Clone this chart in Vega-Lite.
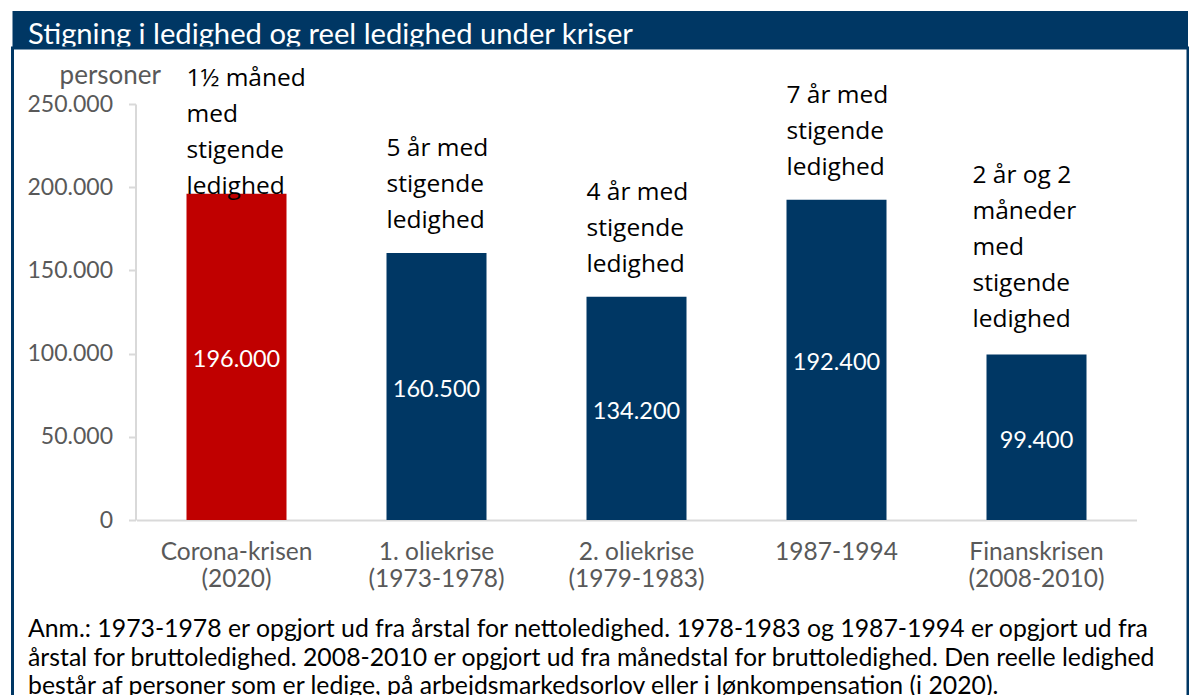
{
  "$schema": "https://vega.github.io/schema/vega-lite/v6.json",
  "background": "white",
  "padding": {"left": 10.5, "top": 11, "right": 0, "bottom": -4.5},
  "spacing": 0,
  "bounds": "flush",
  "config": {
    "locale": {"number": {"decimal": ",", "thousands": ".", "grouping": [3], "currency": ["", " kr."]}},
    "concat": {"spacing": 0}
  },
  "vconcat": [
    {
      "width": 1175.5,
      "height": 37,
      "view": {"fill": "#003764", "stroke": null},
      "data": {"values": [{"t": "", "v": 0}]},
      "mark": {"type": "text"},
      "encoding": {
        "x": {
          "field": "v",
          "type": "quantitative",
          "axis": {
            "orient": "top",
            "domain": false,
            "ticks": false,
            "labels": false,
            "grid": false,
            "title": "Stigning i ledighed og reel ledighed under kriser",
            "titleX": 15,
            "titleY": 32,
            "titleAlign": "left",
            "titleAnchor": "start",
            "titleBaseline": "alphabetic",
            "titleColor": "white",
            "titleFont": "Lato",
            "titleFontSize": 29.2,
            "titleFontWeight": "normal"
          }
        },
        "text": {"field": "t"}
      }
    },
    {
      "width": 1175.5,
      "height": 650,
      "view": {"fill": "white", "stroke": "#003764", "strokeWidth": 3},
      "data": {
        "values": [
          {"krise": "Corona-krisen (2020)", "ledige": 196000, "note": "1½ måned\nmed\nstigende\nledighed"},
          {"krise": "1. oliekrise (1973-1978)", "ledige": 160500, "note": "5 år med\nstigende\nledighed"},
          {"krise": "2. oliekrise (1979-1983)", "ledige": 134200, "note": "4 år med\nstigende\nledighed"},
          {"krise": "1987-1994", "ledige": 192400, "note": "7 år med\nstigende\nledighed"},
          {"krise": "Finanskrisen (2008-2010)", "ledige": 99400, "note": "2 år og 2\nmåneder\nmed\nstigende\nledighed"}
        ]
      },
      "resolve": {"scale": {"y": "independent"}},
      "encoding": {
        "x": {
          "field": "krise",
          "type": "nominal",
          "sort": null,
          "scale": {"range": [124, 1124], "paddingInner": 0.5, "paddingOuter": 0.25},
          "axis": {
            "orient": "bottom",
            "offset": -178,
            "domainColor": "#D9D9D9",
            "domainWidth": 2,
            "ticks": false,
            "labelAngle": 0,
            "labelFont": "Lato",
            "labelFontSize": 24.5,
            "labelColor": "#595959",
            "labelPadding": 20,
            "labelBaseline": "top",
            "labelLineHeight": 27,
            "labelExpr": "split(replace(datum.label, ' (', '|('), '|')",
            "title": [
              "Anm.: 1973-1978 er opgjort ud fra årstal for nettoledighed. 1978-1983 og 1987-1994 er opgjort ud fra",
              "årstal for bruttoledighed. 2008-2010 er opgjort ud fra månedstal for bruttoledighed. Den reelle ledighed",
              "består af personer som er ledige, på arbejdsmarkedsorlov eller i lønkompensation (i 2020)."
            ],
            "titleX": 15,
            "titleY": 96.5,
            "titleAlign": "left",
            "titleAnchor": "start",
            "titleBaseline": "top",
            "titleFont": "Lato",
            "titleFontSize": 24.8,
            "titleFontWeight": "normal",
            "titleColor": "black",
            "titleLineHeight": 28.5
          }
        }
      },
      "layer": [
        {
          "mark": {"type": "bar"},
          "encoding": {
            "y": {
              "field": "ledige",
              "type": "quantitative",
              "scale": {"domain": [0, 250000], "range": [472, 56], "nice": false, "zero": true},
              "axis": {
                "orient": "left",
                "offset": -123,
                "values": [0, 50000, 100000, 150000, 200000, 250000],
                "format": ",.0f",
                "grid": false,
                "domainColor": "#D9D9D9",
                "domainWidth": 2,
                "tickColor": "#D9D9D9",
                "tickWidth": 2,
                "tickSize": 7,
                "labelFont": "Lato",
                "labelFontSize": 23,
                "labelColor": "#595959",
                "labelPadding": 16,
                "title": "personer",
                "titleAngle": 0,
                "titleAlign": "right",
                "titleBaseline": "alphabetic",
                "titleX": 25,
                "titleY": 35,
                "titleFont": "Lato",
                "titleFontSize": 26,
                "titleFontWeight": "normal",
                "titleColor": "#595959"
              }
            },
            "color": {
              "condition": {"test": "datum.krise === 'Corona-krisen (2020)'", "value": "#C00000"},
              "value": "#003764"
            }
          }
        },
        {
          "mark": {"type": "text", "color": "white", "font": "Lato", "fontSize": 23.5, "baseline": "middle", "align": "center", "dy": 3.5},
          "encoding": {
            "y": {
              "field": "ledige",
              "type": "quantitative",
              "scale": {"domain": [0, 500000], "range": [472, 56], "nice": false},
              "axis": null
            },
            "text": {"field": "ledige", "type": "quantitative", "format": ",.0f"}
          }
        },
        {
          "transform": [{"filter": "datum.krise !== 'Corona-krisen (2020)' && datum.krise !== 'Finanskrisen (2008-2010)'"}],
          "mark": {"type": "text", "color": "black", "font": "Open Sans", "fontSize": 24.5, "align": "left", "baseline": "bottom", "lineBreak": "\n", "lineHeight": 36, "dy": -92},
          "encoding": {
            "x": {"field": "krise", "type": "nominal", "sort": null, "bandPosition": 0},
            "y": {
              "field": "ledige",
              "type": "quantitative",
              "scale": {"domain": [0, 250000], "range": [472, 56], "nice": false},
              "axis": null
            },
            "text": {"field": "note"}
          }
        },
        {
          "transform": [{"filter": "datum.krise === 'Corona-krisen (2020)'"}],
          "mark": {"type": "text", "color": "black", "font": "Open Sans", "fontSize": 24.5, "align": "left", "baseline": "bottom", "lineBreak": "\n", "lineHeight": 36, "dy": -103},
          "encoding": {
            "x": {"field": "krise", "type": "nominal", "sort": null, "bandPosition": 0},
            "y": {
              "field": "ledige",
              "type": "quantitative",
              "scale": {"domain": [0, 250000], "range": [472, 56], "nice": false},
              "axis": null
            },
            "text": {"field": "note"}
          }
        },
        {
          "transform": [{"filter": "datum.krise === 'Finanskrisen (2008-2010)'"}],
          "mark": {"type": "text", "color": "black", "font": "Open Sans", "fontSize": 24.5, "align": "left", "baseline": "bottom", "lineBreak": "\n", "lineHeight": 36, "dy": -167, "dx": -14},
          "encoding": {
            "x": {"field": "krise", "type": "nominal", "sort": null, "bandPosition": 0},
            "y": {
              "field": "ledige",
              "type": "quantitative",
              "scale": {"domain": [0, 250000], "range": [472, 56], "nice": false},
              "axis": null
            },
            "text": {"field": "note"}
          }
        }
      ]
    }
  ]
}
